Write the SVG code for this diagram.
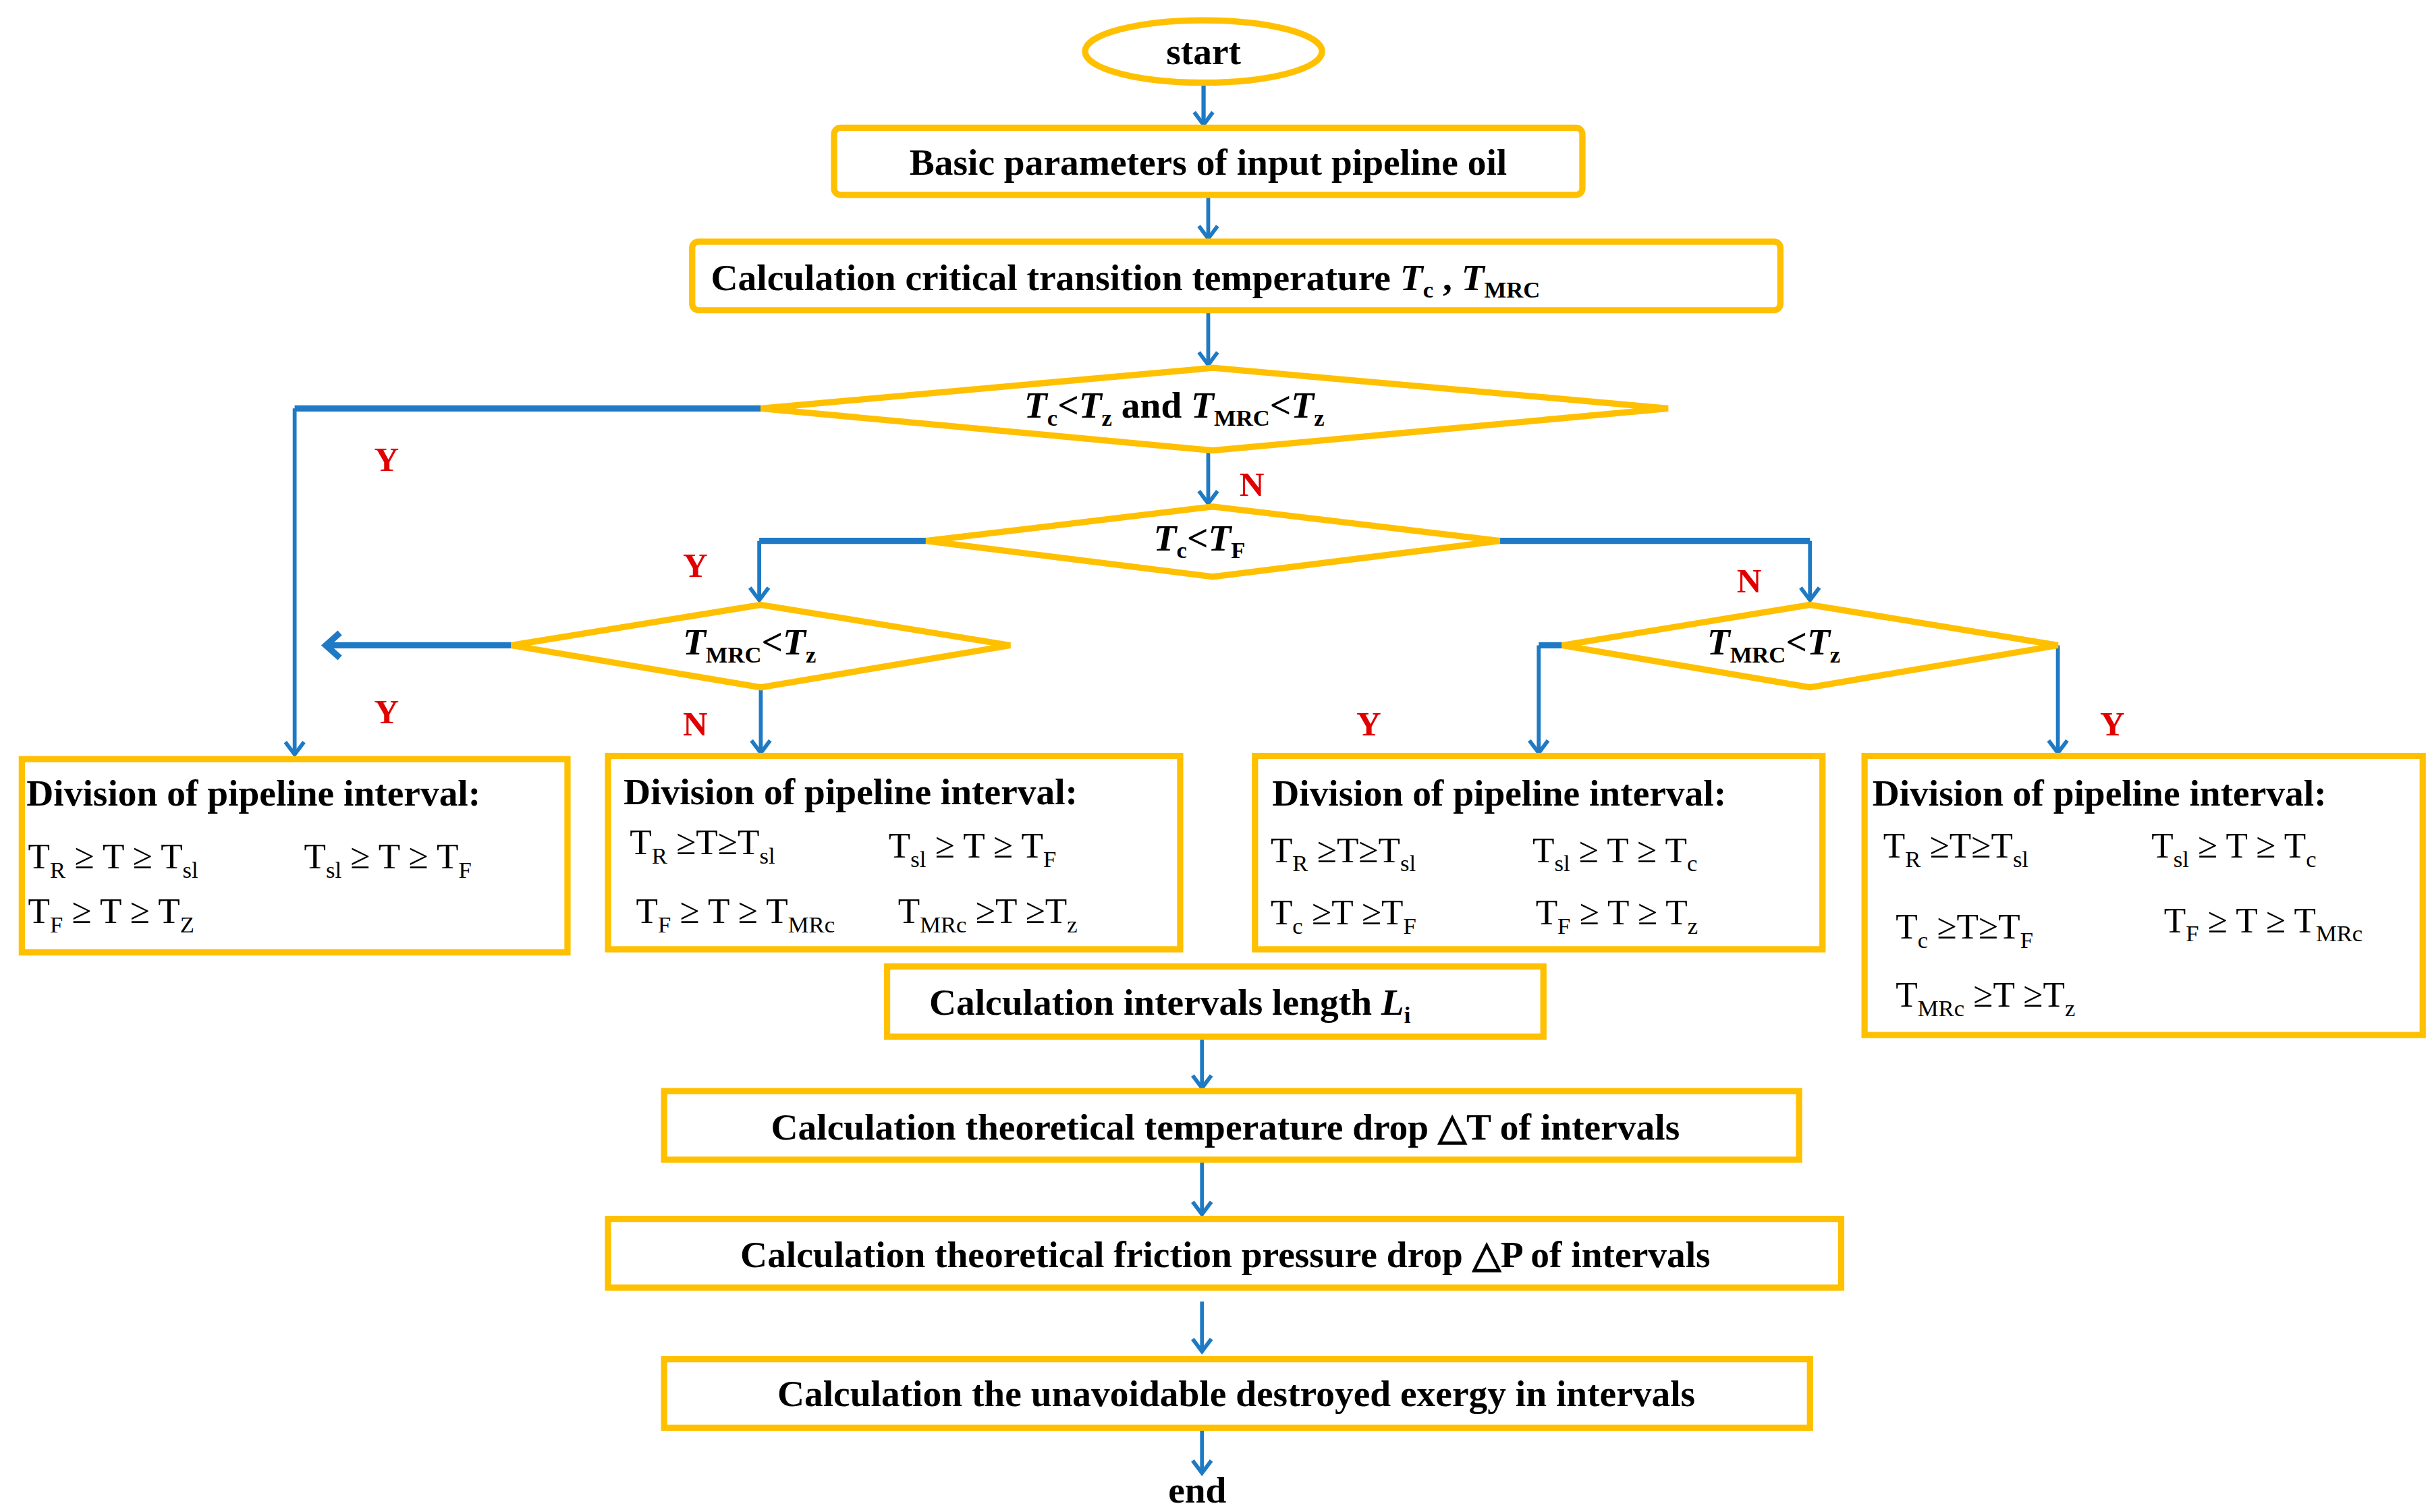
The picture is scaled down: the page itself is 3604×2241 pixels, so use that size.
<svg xmlns="http://www.w3.org/2000/svg" width="3604" height="2241" viewBox="0 0 3604 2241">
<style>
.b{fill:#fff;stroke:#FFC000;stroke-width:4}
.t{font-family:"Liberation Serif",serif;font-weight:bold;font-size:24px;fill:#000}
.f{font-family:"Liberation Serif",serif;font-size:23px;fill:#000}
.s{font-size:15px}
.c{fill:none;stroke:#1E7AC4;stroke-width:2.5}
.w{fill:none;stroke:#1E7AC4;stroke-width:4}
.l{font-family:"Liberation Serif",serif;font-weight:bold;font-size:22px;fill:#E00000}
</style>
<defs>
<marker id="a" viewBox="0 0 10 10" refX="9" refY="5" markerWidth="7" markerHeight="7" orient="auto" markerUnits="userSpaceOnUse">
<path d="M0,0 L10,5 L0,10" fill="none" stroke="#1E7AC4" stroke-width="2"/>
</marker>
</defs>
<rect width="3604" height="2241" fill="#fff"/>
<g transform="scale(2.3103)">
<g id="connectors">
<path class="c" d="M772,54 V80" marker-end="url(#a)" style="marker-end:none"/>
<path class="c" d="M772,54 V80"/>
<path class="c" d="M766,72 L772,80 L778,72"/>
<path class="c" d="M775,125 V153"/><path class="c" d="M769,145 L775,153 L781,145"/>
<path class="c" d="M775,199 V234"/><path class="c" d="M769,226 L775,234 L781,226"/>
<path class="w" d="M488,262 H189"/><path class="c" d="M189,262 V484"/><path class="c" d="M183,476 L189,484 L195,476"/>
<path class="c" d="M775,289 V323"/><path class="c" d="M769,315 L775,323 L781,315"/>
<path class="w" d="M594,347 H487"/><path class="c" d="M487,347 V385"/><path class="c" d="M481,377 L487,385 L493,377"/>
<path class="w" d="M962,347 H1161"/><path class="c" d="M1161,347 V385"/><path class="c" d="M1155,377 L1161,385 L1167,377"/>
<path class="w" d="M328,414 H210"/><path class="w" d="M218,406 L209,414 L218,422"/>
<path class="c" d="M488,441 V483"/><path class="c" d="M482,475 L488,483 L494,475"/>
<path class="w" d="M1002,414 H987"/><path class="c" d="M987,414 V483"/><path class="c" d="M981,475 L987,483 L993,475"/>
<path class="c" d="M1320,414 V483"/><path class="c" d="M1314,475 L1320,483 L1326,475"/>
<path class="c" d="M771,665 V698"/><path class="c" d="M765,690 L771,698 L777,690"/>
<path class="c" d="M771,744 V779"/><path class="c" d="M765,771 L771,779 L777,771"/>
<path class="c" d="M771,835 V867"/><path class="c" d="M765,859 L771,867 L777,859"/>
<path class="c" d="M771,916 V945"/><path class="c" d="M765,937 L771,945 L777,937"/>
</g>
<g id="labels">
<text class="l" x="240" y="302">Y</text>
<text class="l" x="795" y="318">N</text>
<text class="l" x="438" y="370">Y</text>
<text class="l" x="1114" y="380">N</text>
<text class="l" x="240" y="464">Y</text>
<text class="l" x="438" y="472">N</text>
<text class="l" x="870" y="472">Y</text>
<text class="l" x="1347" y="472">Y</text>
</g>
<g id="start"><ellipse class="b" cx="772" cy="33" rx="76" ry="20"/><text class="t" x="772" y="41" text-anchor="middle" font-size="26">start</text></g>
<g id="input"><rect class="b" x="535" y="82" width="480" height="43" rx="4"/><text class="t" x="775" y="112" text-anchor="middle">Basic parameters of input pipeline oil</text></g>
<g id="critical"><rect class="b" x="444" y="155" width="698" height="44" rx="4"/><text class="t" x="456" y="186">Calculation critical transition temperature  <tspan font-style="italic">T</tspan><tspan class="s" dy="5">c</tspan><tspan dy="-5"> , </tspan><tspan font-style="italic">T</tspan><tspan class="s" dy="5">MRC</tspan></text></g>
<g id="d1"><polygon class="b" points="488,262 778,236 1070,262 778,289"/><text class="t" x="657" y="268"><tspan font-style="italic">T</tspan><tspan class="s" dy="5">c</tspan><tspan dy="-5">&lt;</tspan><tspan font-style="italic">T</tspan><tspan class="s" dy="5">z</tspan><tspan dy="-5">    and    </tspan><tspan font-style="italic">T</tspan><tspan class="s" dy="5">MRC</tspan><tspan dy="-5">&lt;</tspan><tspan font-style="italic">T</tspan><tspan class="s" dy="5">z</tspan></text></g>
<g id="d2"><polygon class="b" points="594,347 778,325 962,347 778,370"/><text class="t" x="740" y="353"><tspan font-style="italic">T</tspan><tspan class="s" dy="5">c</tspan><tspan dy="-5">&lt;</tspan><tspan font-style="italic">T</tspan><tspan class="s" dy="5">F</tspan></text></g>
<g id="d3"><polygon class="b" points="328,414 488,388 648,414 488,441"/><text class="t" x="438" y="420"><tspan font-style="italic">T</tspan><tspan class="s" dy="5">MRC</tspan><tspan dy="-5">&lt;</tspan><tspan font-style="italic">T</tspan><tspan class="s" dy="5">z</tspan></text></g>
<g id="d4"><polygon class="b" points="1002,414 1161,388 1320,414 1161,441"/><text class="t" x="1095" y="420"><tspan font-style="italic">T</tspan><tspan class="s" dy="5">MRC</tspan><tspan dy="-5">&lt;</tspan><tspan font-style="italic">T</tspan><tspan class="s" dy="5">z</tspan></text></g>
<g id="boxA"><rect class="b" x="14" y="487" width="350" height="124"/>
<text class="t" x="17" y="517">Division of pipeline interval:</text>
<text class="f" x="18" y="557">T<tspan class="s" dy="6">R</tspan><tspan dy="-6"> ≥ T ≥ T</tspan><tspan class="s" dy="6">sl</tspan></text>
<text class="f" x="195" y="557">T<tspan class="s" dy="6">sl</tspan><tspan dy="-6"> ≥ T  ≥ T</tspan><tspan class="s" dy="6">F</tspan></text>
<text class="f" x="18" y="592">T<tspan class="s" dy="6">F</tspan><tspan dy="-6"> ≥ T ≥ T</tspan><tspan class="s" dy="6">Z</tspan></text></g>
<g id="boxB"><rect class="b" x="390" y="485" width="367" height="124"/>
<text class="t" x="400" y="516">Division of pipeline interval:</text>
<text class="f" x="404" y="548">T<tspan class="s" dy="6">R</tspan><tspan dy="-6"> ≥T≥T</tspan><tspan class="s" dy="6">sl</tspan></text>
<text class="f" x="570" y="550">T<tspan class="s" dy="6">sl</tspan><tspan dy="-6"> ≥ T ≥ T</tspan><tspan class="s" dy="6">F</tspan></text>
<text class="f" x="408" y="592" font-size="21">T<tspan class="s" dy="6">F</tspan><tspan dy="-6"> ≥ T ≥ T</tspan><tspan class="s" dy="6">MRc</tspan></text>
<text class="f" x="576" y="592" font-size="21">T<tspan class="s" dy="6">MRc</tspan><tspan dy="-6"> ≥T ≥T</tspan><tspan class="s" dy="6">z</tspan></text></g>
<g id="boxC"><rect class="b" x="805" y="485" width="364" height="124"/>
<text class="t" x="816" y="517">Division of pipeline interval:</text>
<text class="f" x="815" y="553">T<tspan class="s" dy="6">R</tspan><tspan dy="-6"> ≥T≥T</tspan><tspan class="s" dy="6">sl</tspan></text>
<text class="f" x="983" y="553">T<tspan class="s" dy="6">sl</tspan><tspan dy="-6"> ≥ T ≥ T</tspan><tspan class="s" dy="6">c</tspan></text>
<text class="f" x="815" y="593">T<tspan class="s" dy="6">c</tspan><tspan dy="-6"> ≥T ≥T</tspan><tspan class="s" dy="6">F</tspan></text>
<text class="f" x="985" y="593">T<tspan class="s" dy="6">F</tspan><tspan dy="-6"> ≥ T ≥ T</tspan><tspan class="s" dy="6">z</tspan></text></g>
<g id="boxD"><rect class="b" x="1196" y="485" width="358" height="179"/>
<text class="t" x="1201" y="517">Division of pipeline interval:</text>
<text class="f" x="1208" y="550">T<tspan class="s" dy="6">R</tspan><tspan dy="-6"> ≥T≥T</tspan><tspan class="s" dy="6">sl</tspan></text>
<text class="f" x="1380" y="550">T<tspan class="s" dy="6">sl</tspan><tspan dy="-6"> ≥ T ≥ T</tspan><tspan class="s" dy="6">c</tspan></text>
<text class="f" x="1216" y="602">T<tspan class="s" dy="6">c</tspan><tspan dy="-6"> ≥T≥T</tspan><tspan class="s" dy="6">F</tspan></text>
<text class="f" x="1388" y="598" font-size="20">T<tspan class="s" dy="6" font-size="13">F</tspan><tspan dy="-6"> ≥ T ≥ T</tspan><tspan class="s" dy="6" font-size="13">MRc</tspan></text>
<text class="f" x="1216" y="646">T<tspan class="s" dy="6">MRc</tspan><tspan dy="-6"> ≥T ≥T</tspan><tspan class="s" dy="6">z</tspan></text></g>
<g id="length"><rect class="b" x="569" y="620" width="421" height="45"/><text class="t" x="596" y="651">Calculation intervals length  <tspan font-style="italic">L</tspan><tspan class="s" dy="5">i</tspan></text></g>
<g id="tempdrop"><rect class="b" x="426" y="700" width="728" height="44"/><text class="t" x="786" y="731" text-anchor="middle">Calculation theoretical temperature drop △T of intervals</text></g>
<g id="pressdrop"><rect class="b" x="390" y="782" width="791" height="44"/><text class="t" x="786" y="813" text-anchor="middle">Calculation theoretical friction pressure drop △P  of intervals</text></g>
<g id="exergy"><rect class="b" x="426" y="872" width="735" height="44"/><text class="t" x="793" y="902" text-anchor="middle">Calculation the unavoidable destroyed exergy in intervals</text></g>
<g id="end"><text class="t" x="768" y="964" text-anchor="middle">end</text></g>
</g>
</svg>
